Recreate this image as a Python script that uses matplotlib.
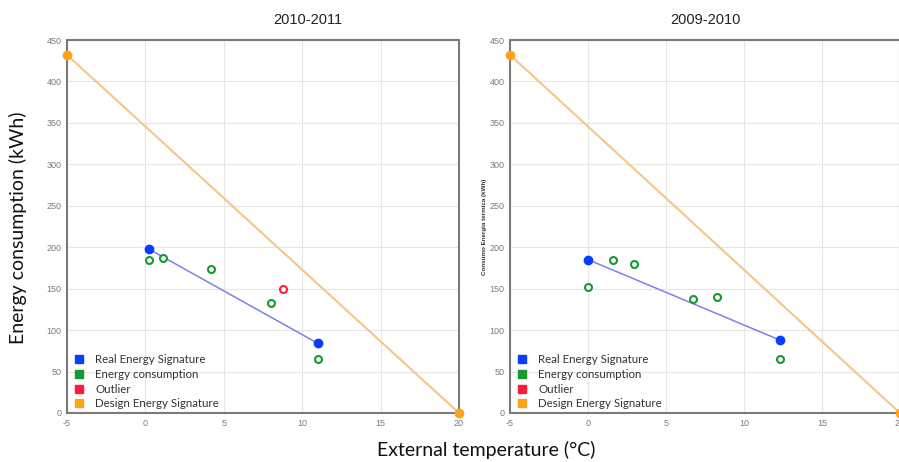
import matplotlib
matplotlib.use("Agg")
import matplotlib.pyplot as plt
from matplotlib.lines import Line2D

plt.rcParams["axes.unicode_minus"] = False

# ---- data ----
titles = ["2010-2011", "2009-2010"]
design_x = [-5, 20]
design_y = [432, 0]

real_x_1 = [0.2, 11.0]
real_y_1 = [198, 84]
cons_x_1 = [0.2, 1.1, 4.2, 8.0, 11.0]
cons_y_1 = [184, 187, 174, 133, 65]
out_x_1 = [8.8]
out_y_1 = [150]

real_x_2 = [0.0, 12.3]
real_y_2 = [185, 88]
cons_x_2 = [0.0, 1.6, 2.95, 6.7, 8.3, 12.3]
cons_y_2 = [152, 185, 180, 138, 140, 65]
out_x_2 = []
out_y_2 = []

xticks = [-5, 0, 5, 10, 15, 20]
yticks = [0, 50, 100, 150, 200, 250, 300, 350, 400, 450]
legend_labels = ["Real Energy Signature", "Energy consumption", "Outlier", "Design Energy Signature"]

BLUE = "#0a3cff"
BLUE_LINE = "#7f7ff0"
GREEN = "#149a2e"
RED = "#ff1a3a"
ORANGE = "#ffa31a"
ORANGE_LINE = "#f5c684"

W, H = 899, 462
fig = plt.figure(figsize=(W / 100, H / 100), dpi=100)

def px_axes(x0, x1, ytop, ybot):
    return fig.add_axes([x0 / W, (H - ybot) / H, (x1 - x0) / W, (ybot - ytop) / H])

ax1 = px_axes(67, 459, 40, 413)
ax2 = px_axes(510, 900, 40, 413)

def draw(ax, rx, ry, cx, cy, ox, oy):
    ax.set_xlim(-5, 20)
    ax.set_ylim(0, 450)
    ax.set_xticks(xticks)
    ax.set_yticks(yticks)
    ax.grid(True, color="#e6e6e6", lw=0.8)
    ax.set_axisbelow(True)
    for s in ax.spines.values():
        s.set_color("#7a7a7a")
        s.set_linewidth(1.5)
    ax.tick_params(length=0, labelsize=6.5, colors="#7a7a7a", pad=4)
    for lab in ax.get_xticklabels() + ax.get_yticklabels():
        lab.set_family("Liberation Sans")
    ax.plot(design_x, design_y, color=ORANGE_LINE, lw=1.5, zorder=2)
    ax.plot(design_x, design_y, "o", color=ORANGE, ms=6, zorder=5, clip_on=False)
    ax.plot(rx, ry, color=BLUE_LINE, lw=1.1, zorder=3)
    ax.plot(rx, ry, "o", color=BLUE, ms=6, zorder=5)
    ax.plot(cx, cy, "o", mfc="white", mec=GREEN, mew=1.5, ms=5, ls="none", zorder=4)
    if ox:
        ax.plot(ox, oy, "o", mfc="white", mec=RED, mew=1.5, ms=5, ls="none", zorder=4)
    handles = [Line2D([], [], marker="s", ls="none", color=c, ms=6)
               for c in [BLUE, GREEN, RED, ORANGE]]
    leg = ax.legend(handles, legend_labels, loc="lower left", frameon=False,
                    prop={"family": "Lato", "size": 8.3}, handlelength=0.6,
                    handletextpad=1.1, labelspacing=0.32, borderaxespad=0.0,
                    borderpad=0.0, bbox_to_anchor=(0.022, 0.01))
    for t in leg.get_texts():
        t.set_color("#333333")

draw(ax1, real_x_1, real_y_1, cons_x_1, cons_y_1, out_x_1, out_y_1)
draw(ax2, real_x_2, real_y_2, cons_x_2, cons_y_2, out_x_2, out_y_2)

ax1.text(0.615, 1.054, titles[0], transform=ax1.transAxes, ha="center", va="center",
         fontsize=10.5, color="#222222", family="Liberation Sans")
ax2.text(0.5, 1.054, titles[1], transform=ax2.transAxes, ha="center", va="center",
         fontsize=10.5, color="#222222", family="Liberation Sans")

ax2.set_ylabel("Consumo Energia termica (kWh)", fontsize=4.5, fontweight="bold",
               color="#333333", labelpad=2, family="Liberation Sans")

fig.text(18 / W, 1 - 228 / H, "Energy consumption (kWh)", rotation=90,
         ha="center", va="center", fontsize=14, color="#111111", family="Lato")
fig.text(486 / W, 1 - 450 / H, "External temperature (°C)", ha="center",
         va="center", fontsize=14, color="#111111", family="Lato")

fig.savefig("out.png", dpi=100)
